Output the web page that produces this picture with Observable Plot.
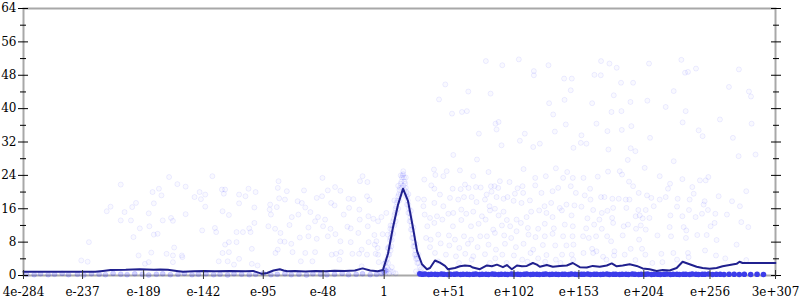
<!DOCTYPE html>
<html><head><meta charset="utf-8">
<script src="https://cdn.jsdelivr.net/npm/d3@7"></script>
<script src="https://cdn.jsdelivr.net/npm/@observablehq/plot@0.6"></script>
<style>body{margin:0;background:#fff} svg{display:block} svg text{font-family:"DejaVu Serif",serif !important;}</style>
</head><body><div id="chart"></div>
<script>
// x values are given as log10 exponents (the axis spans 4e-284 .. 3e+307)
const xMin = 4e-284, xMax = 3e307;
const xTickValues = [4e-284, 1e-237, 1e-189, 1e-142, 1e-95, 1e-48, 1, 1e51, 1e102, 1e153, 1e204, 1e256, 3e307];
const xTickLabels = ["4e-284", "e-237", "e-189", "e-142", "e-95", "e-48", "1", "e+51", "e+102", "e+153", "e+204", "e+256", "3e+307"];
const yMajorTicks = [0, 8, 16, 24, 32, 40, 48, 56, 64];
const yMinorTicks = [4, 12, 20, 28, 36, 44, 52, 60];

// smoothed line: [exponent, value]
const lineSeries = [
[-283.4,0.9],[-254,0.9],[-227,0.9],[-221,1.1],[-215,1.3],[-203,1.35],[-192,1.5],[-181,1.4],[-176,1.45],[-170,1.35],
[-163,1.1],[-158,0.9],[-150,1.0],[-141,1.1],[-133,1.0],[-121,1.05],[-109,1.0],[-103,1.1],[-100,0.8],[-96,0.4],
[-92,0.6],[-87,1.2],[-82,1.5],[-79,1.2],[-76,1.0],[-70,1.1],[-62,0.95],[-54,1.1],[-46,1.0],[-39,1.15],
[-31,1.1],[-23,1.2],[-17,1.7],[-11,1.2],[-5,1.0],[-1,1.3],[3,5.2],[6.9,11.5],[10.9,17],[14.8,20.8],
[18.7,17.9],[22.6,11.5],[25.8,5.9],[29.7,2.7],[33.6,1.5],[36,1.8],[39.9,3.6],[43.8,3.1],[47.8,2.3],[50.1,1.5],
[55.6,1.8],[59.5,2.2],[63.5,2.4],[67.4,2.3],[69.7,1.9],[75.2,1.5],[80.7,2.4],[84.6,2.2],[88.6,2.6],[93.3,2.0],
[96.4,2.5],[100.3,1.5],[104.3,2.4],[108.2,2.2],[112.1,2.3],[116.8,3.0],[120,2.6],[122.3,2.1],[127.8,2.5],[132.5,2.1],
[138,2.3],[143.5,2.4],[148.2,3.0],[153.7,2.0],[159.2,1.9],[163.9,2.3],[169.4,2.1],[174.9,2.4],[178.8,2.9],[182.7,2.2],
[187.4,2.4],[192.9,2.7],[198.4,2.3],[203.1,1.7],[208.6,1.5],[214.1,1.1],[218.8,1.3],[224.3,1.2],[229.8,1.8],[234.5,3.3],
[240,2.7],[245.5,2.1],[250.2,1.8],[255.7,1.6],[261.2,1.8],[265.9,2.2],[271.4,2.5],[276.9,2.8],[279.2,3.3],[281.6,3.0],
[307.4,3.0]
];

// scattered observations: [exponent, value]
const pointsLeft = [
[-207,21.8],[-169,23.6],[-162.5,21.9],[-156,21.3],[-177,20.8],[-182,20],[-175,19.2],[-145,20],[-140.6,19.4],[-149,18.8],[-144,18.3],[-140.6,16.5],[-195,17.4],[-198,16.4],[-215,16.5],[-218,15.4],[-204,15.2],[-181,17.3],[-185,14.9],[-156,14.7],[-167.5,13.8],[-166,13.1],[-174,13.2],[-207,13.2],[-199,13.2],[-192,11.3],[-184.5,11.8],[-143,10.8],[-181,9.8],[-178,10],[-197,9.2],[-232,8],[-165,6.7],[-193,4.8],[-183,5.5],[-171,5.2],[-166,4.8],[-159,4.8],[-158.6,4.4],[-238,3.6],[-233,3.3],[-188,2.8],[-185,3.2],[-166,3.2],
[-135,23.8],[-127.5,20.6],[-125,20.6],[-126,19.6],[-114,19.4],[-109,19],[-106.6,20.8],[-101,20],[-114,17.3],[-102,16.3],[-127,15.4],[-122,14.5],[-133,11.4],[-132,10.4],[-116,10.4],[-111,10.4],[-106,11.3],[-105,10.4],[-102,12.6],[-125,7.4],[-122,8],[-116,8],[-104,6.4],[-127,5.4],[-122,5.6],[-130,3.4],[-123,3.4],[-118,2.6],[-114,4],[-104,2.8],[-99.5,2.4],[-83,22.6],[-83.6,21],[-76.5,20.2],[-78,18.2],[-82.5,18.5],[-89.6,17],[-84.4,16.4],[-90,15.8],[-89,14.6],[-72.6,14],[-67.4,14.6],[-62,16.3],[-63,20.4],[-68,17.8],[-64.7,17.4],[-58,15.2],[-52,14],[-54.3,13],[-59.5,11.5],[-74.4,12.1],[-81.5,10.2],[-91,11.8],[-85.7,11.2],[-81.7,8.2],[-78.3,8.1],[-85.4,5.4],[-83.6,6.2],[-73,7.6],[-72,5.6],[-66.3,9.1],[-59.5,9.4],[-53,8.8],[-65.5,3.4],[-62,5.4],[-56.4,3.4],[-54.3,5.6],[-48.5,23.4],[-53,18.6],[-48.8,19],[-44.3,20.4],[-41.7,17.4],[-39,16.8],[-38.6,21.2],[-34.4,20.3],[-28,18.4],[-24.2,18.3],[-27.6,16.2],[-31.8,14.6],[-19.5,15.8],[-19.2,13.4],[-12.4,14.2],[-8.5,13.6],[-4.8,13],[-2.2,14],[1.7,15],[-19,22.6],[-17,23.8],[-13.2,22.4],[-13.5,19],[-11.6,18.1],[-46.4,13.4],[-48,11.8],[-42.2,11.2],[-44.3,9.4],[-38.3,9.9],[-28.9,11.7],[-26.3,11.3],[-20.3,10.2],[-12.9,11.8],[-12.2,8],[-7.7,9.7],[-7.4,7.4],[-6.1,8.2],[-5.1,6.6],[-1.2,9.9],[2.8,9.8],[4.8,11.2],[-34.4,8.2],[-26.3,8],[-41.2,5],[-37.8,5.2],[-35.2,3.8],[-34.1,5.6],[-25,5.2],[-19.7,5.2],[-17.7,6.2],[-13.5,5],[-6.7,5.2],[-4.8,5],[-4.3,3.2],[-17.7,2.2],[-0.1,2.8],[1.4,3.4],[5.6,7],[2.8,6.6]
];
const pointsRight = [
[79.9,51.4],[105.8,51.8],[92.8,50.4],[129.1,50.4],[117.6,49],[117.6,48],[141.4,47.2],[147.4,47.2],[48,45.8],[66.1,44.1],[83.6,43.6],[146.6,44.4],[43.1,42.2],[129.6,41.3],[141.7,42.1],[53.3,38.8],[61.1,39.2],[65,39.4],[132.8,38.6],[89.9,36.8],[87.5,36.4],[88.3,35],[142.7,36.2],[74.4,34],[110.5,34],[134.1,34.5],[106.6,32.3],[122.3,31.6],[117.1,30.8],[92.2,31.2],[148.7,30.6],[54.3,28.9],[72.9,27.8],[39.1,25.4],[40.2,24.1],[49.1,25],[59.5,25.2],[82,24.8],[109.5,25.5],[134.9,25.7],[143.8,24.8],[31.5,23],[46.5,23.8],[70,23.8],[90.9,22.6],[98.5,22.4],[104.8,20.9],[108.7,21.4],[118.7,23.4],[118.7,21.6],[127,23.8],[140.6,23.4],[148.2,23.4],[146.6,21.4],[136.7,21],[37,21.6],[39.4,20.8],[43.8,19.4],[53.8,20.8],[60.1,20.7],[63.5,21.8],[66.3,21],[72.1,21.2],[75.8,21.1],[83.9,21.4],[86.7,21.4],[89.6,21],[84.4,20.1],[80.5,19.4],[88.3,18.8],[93.8,18.4],[102.7,19.6],[109.2,19.8],[123.6,19.8],[132.3,20.2],[150.6,19.8],[26.6,18.4],[31.3,18.2],[39.4,17.4],[46.5,16.6],[51.7,18.6],[58.2,18.2],[62.7,18.8],[68.7,18.8],[72.6,17.6],[79.2,18.2],[82.8,16.6],[87,16],[96.9,18.8],[101.7,17.9],[107.9,17.4],[114.5,18],[126,16.6],[131.2,17.4],[138,16.2],[143.2,17],[149.5,16.8],[30.8,16.6],[31.8,14.6],[36,13.8],[41.5,14.2],[50.4,14.8],[54.3,15],[60.6,15.8],[64.5,14.8],[70,15.3],[76.8,14.2],[83.1,15.6],[89.9,14.4],[93.8,15.3],[96.4,13.3],[104,13.4],[111.9,14],[115.5,15.3],[121.8,15.6],[127.5,15],[132.3,14],[139.6,15.6],[147.2,14.4],[33.9,11.8],[39.4,12.6],[45.7,13.4],[54,11.8],[60.6,13.3],[68.2,11.8],[74.2,12.4],[79.7,13.4],[85.7,11],[92.5,12],[99,11.8],[107.4,12.6],[112.9,11.4],[121,11.2],[126.2,12.4],[133.3,11.3],[141.9,12.2],[148.2,11.8],[32.9,9],[36.5,8.6],[42.5,9.8],[50.9,9.6],[55.6,8.6],[62.7,9.4],[68.4,8.6],[75.5,9.4],[80.7,9.4],[87,10.2],[94.3,9.6],[99.8,9],[104,10.6],[113.4,9.8],[118.9,9.2],[126.2,9.4],[132.3,10],[140.6,9.4],[148,9.4],[36,6.8],[44.4,7.7],[51.2,7.2],[59,6.6],[65.8,7.6],[73.4,6.8],[82,7.4],[87.8,6.2],[94.9,7.6],[103.5,6.8],[109.5,7.6],[117.1,6.2],[124.7,7.3],[134.4,7.2],[143.2,7.2],[148.7,7.4],[39.9,5.4],[48.5,5],[56.4,4.6],[63.7,5.2],[70,4.6],[79.2,5.1],[87.3,4.1],[92.8,5],[101.9,4.8],[108.5,3.8],[115,5.4],[121,4.1],[127.5,4.9],[134.9,3.8],[139.8,5],[147.4,5],[42.3,3.4],[58.8,3],[68.7,3.8],[83.1,3],[96.2,3],[112.6,3.3],[126.5,3.3],[138.5,3],[148.5,3.8],
[170.4,51.4],[177,50.8],[182.7,49.8],[208.1,50.8],[233.5,51.7],[236.4,48.6],[238.7,48.8],[245,49.6],[278.7,49.4],[165.2,48.1],[170.2,48],[186.1,46.2],[195.6,46.2],[227.5,44.2],[270.9,45.2],[286.6,44.1],[288.2,42.9],[180.4,43.2],[163.4,41.3],[193.5,41.6],[206.8,41.9],[221.2,40.4],[178.6,39.2],[186.4,39.4],[236.9,39.4],[263.8,37.4],[288.7,36.4],[166.8,36.4],[194.2,35.8],[175.4,34.6],[186.7,34.9],[234.5,36.7],[247.1,34.8],[250.2,33.4],[274,33],[155,33.6],[208.9,33],[154.5,31.8],[158.9,31.6],[176.2,30.2],[193.7,30.5],[197.4,29.8],[291.8,29],[278.5,28.6],[191.4,27.7],[227.5,27.4],[204.7,25.8],[186.9,24.2],[175.9,24.9],[167.8,23.7],[156.6,23.4],[185.1,25],[192.4,22.5],[195.6,21.4],[200,19.8],[216.5,23.8],[224.6,22],[223,20.8],[234.3,23.1],[242.1,21.2],[248.1,22.8],[252.6,22.8],[254.7,23.6],[284.5,20.2],[161.8,20.8],[157.6,19.2],[162.1,18.2],[170.4,18.8],[173.1,18.8],[179.3,18.4],[184.3,18.4],[189.8,18.2],[192.7,18.2],[206.5,19.2],[209.9,18.6],[216.5,18.2],[221.2,18.8],[230.6,18.4],[240,18.2],[243.2,19.6],[251.8,17.8],[262.8,19],[273.3,17.8],[155,16.5],[164.2,15.7],[171,15],[175.4,15.5],[179.9,16.2],[190.3,16.2],[199.7,15.7],[205.5,15.7],[211.8,16.6],[230.1,16.5],[239.5,15.7],[251,17],[254.4,15.7],[279.5,16.6],[159.7,13.7],[169.1,13.4],[179.1,13.8],[188.2,11.8],[191.6,12.2],[197.6,14.2],[200.8,14.4],[203.1,13.7],[208.4,13.8],[224.9,14.4],[234.3,14.2],[244.7,14],[249.7,14.8],[260.2,14.8],[269.3,14.6],[158.7,11.3],[165,12.2],[171,11.2],[179.9,12.6],[197.9,11.2],[201.6,12],[205.5,11],[224.3,11.6],[235.3,11.6],[237.4,10.8],[256.5,11.8],[259.6,12.6],[280.6,12.8],[286.1,11.6],[156.3,9.4],[160.8,9],[166.5,9.4],[175.2,9.4],[187.4,9.6],[178.3,8.2],[200.3,8.6],[214.7,9.6],[225.4,9.4],[237.1,9],[246,9.7],[253.4,9.7],[261.2,8.5],[276.9,7.4],[163.4,6.4],[164.2,5.4],[156.6,5.4],[166.8,5.8],[180.9,5.8],[189,5],[193.7,6.4],[202.6,6.4],[205.2,5],[217.8,5.2],[227.2,5.4],[238.7,5.4],[252.1,6],[260.7,4.8],[172,4.5],[174.6,3.8],[180.6,4.8],[197.4,3.7],[210.7,3],[218.6,3.2],[230.1,3.8],[239.2,4.4],[268,4.1],[284.5,3.7]
];
const peakPoints = [
[2,2],[2.5,4],[3,5],[3.5,6.5],[4,7],[4.5,8.5],[5,9],[5.5,10],[6,11],[6.5,12],[7,13],[7.5,13.5],[8,14.5],[8.5,15],[9,16],[9.5,16.5],[10,17.5],[10.5,18],[11,19],[11.5,19.5],[12,20.5],[12.5,21],[13,22],[13.5,22.5],[14,23.5],[14.5,24],[15,24.3],[15.5,23.5],[16,22.5],[16.5,22],[17,21],[17.5,20],[18,19],[18.5,18],[19,17],[19.5,16],[20,15],[20.5,14],[21,13],[21.5,12],[22,11],[22.5,10],[23,9],[23.5,8],[24,7],[24.5,6],[25,5],[25.5,4.5],[26,4],[27,3],[28,2],[29,1.5],
[4,5],[6,8.5],[8,12],[10,15],[12,18],[13,19.5],[14,21],[15,21.5],[16,20.5],[17,19],[18,17],[20,13],[22,9],[24,5],[26,3],[3,3],[5,6],[7,10],[9,13],[11,16],[19,15],[21,11],[23,7],[25,4],
[5,12],[8,18],[11,21.5],[13,24],[15,25],[17,23.5],[19,19.5],[21,15.5],[23,11.5],[25,7.5],[1,3],[0,1.5],[27,5],
[1,0.5],[2,1],[3,1.5],[4,0.5],[5,1],[6,2],[7,0.8],[9,0.5],[25,1],[27,0.5],[29,0.8],[31,0.3]
];
const zeroLeft = [
[-281,0.3],[-275,0.2],[-270,0.4],[-264,0.2],[-259,0.3],[-253,0.5],[-248,0.2],[-241,0.3],[-236,0.1],[-230,0.4],[-224,0.3],[-219,0.2],[-213,0.5],[-207,0.3],[-202,0.2],[-196,0.4],[-190,0.3],[-185,0.1],[-179,0.3],[-174,0.4],[-168,0.2],[-162,0.3],[-157,0.5],[-151,0.2],[-146,0.3],[-140,0.4],[-134,0.2],[-129,0.3],[-123,0.1],[-118,0.4],[-112,0.3],[-106,0.2],[-101,0.3],[-95,0.5],[-89,0.2],[-84,0.3],[-78,0.4],[-73,0.2],[-67,0.3],[-61,0.1],[-56,0.4],[-50,0.3],[-45,0.2],[-39,0.3],[-33,0.5],[-28,0.2],[-22,0.3],[-17,0.4],[-11,0.2],[-6,0.3],[-2,0.5],[0,0.8],[1,1.2]
];
const zeroRight = [
[28,0.4],[30,0.3],[32,0.35],[35,0.25],[37,0.3],[40,0.3],[42,0.25],[45,0.35],[47,0.3],[50,0.25],[52,0.3],[55,0.3],[57,0.35],[60,0.25],[62,0.3],[65,0.3],[67,0.25],[70,0.3],[72,0.35],[75,0.25],[77,0.3],[80,0.3],[82,0.25],[85,0.35],[87,0.3],[90,0.25],[92,0.3],[95,0.3],[97,0.25],[100,0.35],[102,0.3],[105,0.3],[107,0.25],[110,0.3],[112,0.35],[115,0.25],[117,0.3],[120,0.3],[122,0.25],[125,0.3],[127,0.35],[130,0.25],[132,0.3],[135,0.3],[137,0.25],[140,0.3],[142,0.3],[145,0.25],[147,0.35],[150,0.3],[152,0.25],[155,0.3],[157,0.3],[160,0.35],[162,0.25],[165,0.3],[167,0.3],[170,0.25],[172,0.3],[175,0.35],[177,0.25],[180,0.3],[182,0.3],[185,0.25],[187,0.3],[190,0.3],[192,0.25],[195,0.35],[197,0.3],[200,0.25],[202,0.3],[205,0.3],[207,0.35],[210,0.25],[212,0.3],[215,0.3],[217,0.25],[220,0.3],[222,0.35],[225,0.25],[227,0.3],[230,0.3],[232,0.25],[235,0.3],[237,0.3],[240,0.25],[242,0.35],[245,0.3],[247,0.25],[250,0.3],[252,0.3],[255,0.35],[258,0.25],[261,0.3],[264,0.3],[267,0.25],[271,0.3],[275,0.3],[279,0.25],[283,0.3],[288,0.25],[293,0.3],[298,0.25]
];

const toRows = arr => arr.map(([e, v]) => ({x: 10 ** e, y: v}));
const labelMap = new Map(xTickValues.map((t, i) => [t, xTickLabels[i]]));
const scatter = toRows([...pointsLeft, ...pointsRight, ...peakPoints]);
const lowLeft = toRows(zeroLeft);
const band = toRows(zeroRight);
const line = toRows(lineSeries);
const serif = "DejaVu Serif";

const chart = Plot.plot({
  width: 800, height: 300,
  marginLeft: 23, marginRight: 25, marginTop: 8, marginBottom: 25,
  style: {fontFamily: serif, fontSize: "12px", color: "#000", background: "#fff"},
  x: {type: "log", domain: [xMin, xMax], axis: null, label: null},
  y: {domain: [0, 64], axis: null, label: null},
  marks: [
    Plot.frame({stroke: "#a8a8a8", strokeWidth: 2}),
    Plot.dot(scatter, {x: "x", y: "y", r: 2.5, fill: "blue", fillOpacity: 0.025, stroke: "blue", strokeOpacity: 0.07, strokeWidth: 1}),
    Plot.dot(lowLeft, {x: "x", y: "y", r: 2.5, fill: "blue", fillOpacity: 0.18, stroke: "blue", strokeOpacity: 0.1, strokeWidth: 1}),
    Plot.dot(band, {x: "x", y: "y", r: 2.8, fill: "#3c3cea", fillOpacity: 1, stroke: "none"}),
    Plot.line(line, {x: "x", y: "y", stroke: "#20208e", strokeWidth: 2, curve: "linear"}),
    Plot.axisY(yMajorTicks, {anchor: "left", tickSize: 10, dx: 5, fill: "none", stroke: "#000", label: null}),
    Plot.axisY(yMinorTicks, {anchor: "left", tickSize: 6, dx: 3, fill: "none", stroke: "#000", label: null}),
    Plot.axisY(yMajorTicks, {anchor: "right", tickSize: 10, dx: -5, fill: "none", stroke: "#000", label: null}),
    Plot.axisY(yMinorTicks, {anchor: "right", tickSize: 6, dx: -3, fill: "none", stroke: "#000", label: null}),
    Plot.axisY(yMajorTicks, {anchor: "left", tickSize: 0, tickPadding: 7, label: null, fill: "#000", fontFamily: serif, fontSize: 12}),
    Plot.axisX(xTickValues, {anchor: "bottom", tickSize: 9, dy: -5, fill: "none", stroke: "#333", label: null}),
    Plot.axisX(xTickValues, {anchor: "bottom", tickSize: 0, tickPadding: 12, tickFormat: d => labelMap.get(d), label: null, fill: "#000", fontFamily: serif, fontSize: 12})
  ]
});
document.getElementById("chart").appendChild(chart);
</script>
</body></html>
